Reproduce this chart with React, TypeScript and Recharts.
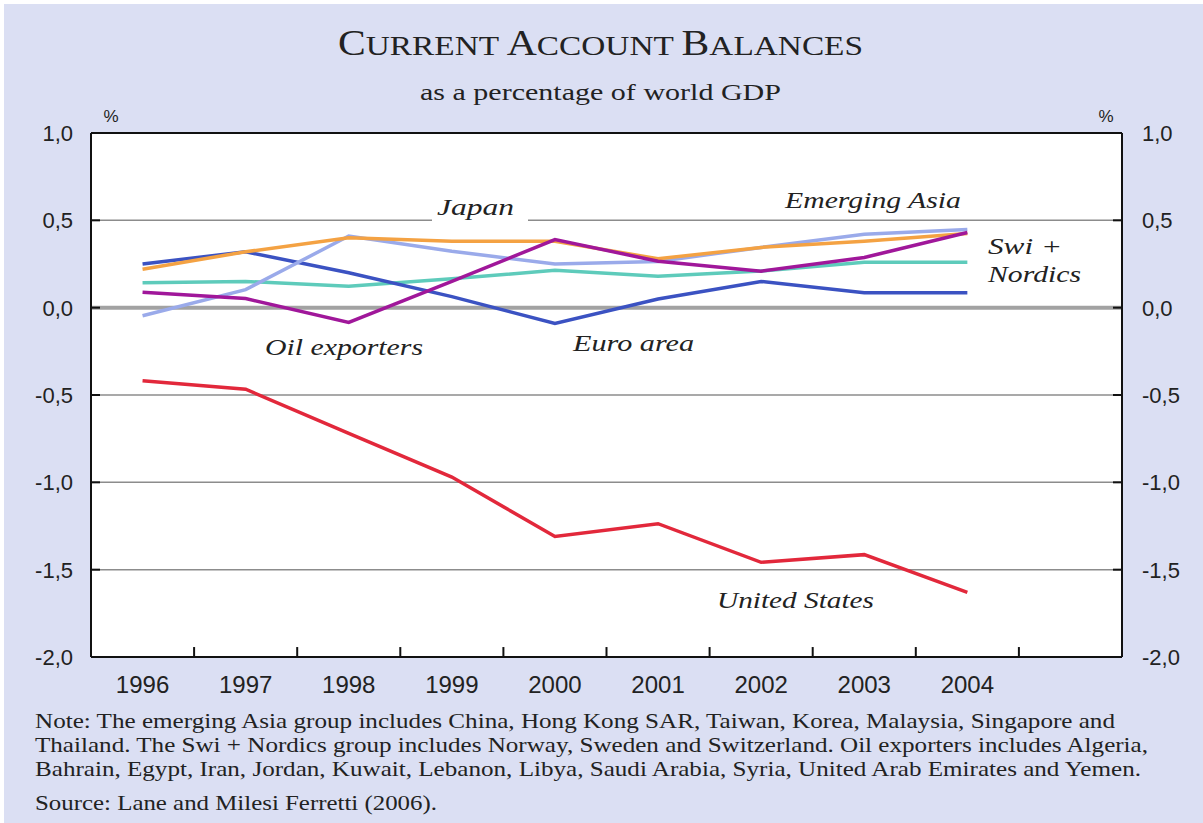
import { LineChart, Line, XAxis, YAxis, CartesianGrid, ReferenceLine } from 'recharts';

// values, % of world GDP
const years = [1996, 1997, 1998, 1999, 2000, 2001, 2002, 2003, 2004];
const euroArea = [0.25, 0.32, 0.2, 0.063, -0.09, 0.05, 0.15, 0.085, 0.085];
const japan = [0.22, 0.32, 0.4, 0.38, 0.38, 0.28, 0.345, 0.38, 0.425];
const emergingAsia = [-0.046, 0.103, 0.41, 0.323, 0.25, 0.265, 0.345, 0.42, 0.448];
const swiNordics = [0.142, 0.15, 0.122, 0.165, 0.214, 0.18, 0.21, 0.26, 0.26];
const oilExporters = [0.088, 0.052, -0.084, 0.15, 0.39, 0.266, 0.209, 0.287, 0.43];
const unitedStates = [-0.418, -0.467, -0.72, -0.97, -1.31, -1.237, -1.458, -1.414, -1.63];

const yearBounds = [1996.5, 1997.5, 1998.5, 1999.5, 2000.5, 2001.5, 2002.5, 2003.5, 2004.5];
const yTicks = [-2, -1.5, -1, -0.5, 0, 0.5, 1];

const noteLines = [
  'Note: The emerging Asia group includes China, Hong Kong SAR, Taiwan, Korea, Malaysia, Singapore and',
  'Thailand. The Swi + Nordics group includes Norway, Sweden and Switzerland. Oil exporters includes Algeria,',
  'Bahrain, Egypt, Iran, Jordan, Kuwait, Lebanon, Libya, Saudi Arabia, Syria, United Arab Emirates and Yemen.',
];
const sourceLine = 'Source: Lane and Milesi Ferretti (2006).';

const data = years.map((year, i) => ({
  year,
  euro: euroArea[i],
  japan: japan[i],
  asia: emergingAsia[i],
  nordics: swiNordics[i],
  oil: oilExporters[i],
  us: unitedStates[i],
}));

const SANS = '"Liberation Sans", Arial, sans-serif';
const SERIF = '"Liberation Serif", "Times New Roman", serif';
const INK = '#222';

const fmt = (v: number) => v.toFixed(1).replace('.', ',');

const LeftTick = (props: any) => {
  const { x, y, payload } = props;
  return (
    <g>
      <line x1={x + 18} x2={x + 27} y1={y} y2={y} stroke="#111" strokeWidth={2} />
      <text x={x} y={y} dy="0.36em" textAnchor="end" fontSize={22} fontFamily={SANS} fill={INK}>
        {fmt(payload.value)}
      </text>
    </g>
  );
};

const RightTick = (props: any) => {
  const { x, y, payload } = props;
  return (
    <g>
      <line x1={x - 20} x2={x - 29} y1={y} y2={y} stroke="#111" strokeWidth={2} />
      <text x={x} y={y} dy="0.36em" textAnchor="start" fontSize={22} fontFamily={SANS} fill={INK}>
        {fmt(payload.value)}
      </text>
    </g>
  );
};

const seriesLabels = [
  { text: 'Japan', x: 437, y: 215, w: 77 },
  { text: 'Emerging Asia', x: 785, y: 208, w: 176 },
  { text: 'Swi +', x: 988, y: 254, w: 74 },
  { text: 'Nordics', x: 988, y: 282, w: 93 },
  { text: 'Oil exporters', x: 265, y: 355, w: 158 },
  { text: 'Euro area', x: 573, y: 351, w: 121 },
  { text: 'United States', x: 717, y: 608, w: 157 },
];

export default function App() {
  return (
    <div style={{ position: 'absolute', left: 0, top: 0, width: 1203, height: 823, background: '#fff' }}>
      <div style={{ position: 'absolute', left: 4, top: 4, width: 1199, height: 819, background: '#dbdff3' }} />
      <div style={{ position: 'absolute', left: 0, top: 0 }}>
        <LineChart width={1203} height={700} data={data} margin={{ top: 133, right: 0, bottom: 0, left: 0 }}>
          <CartesianGrid vertical={false} stroke="#8c8c8c" strokeWidth={1.5} fill="#fff" />
          <XAxis
            type="number"
            dataKey="year"
            domain={[1995.5, 2005.5]}
            ticks={years}
            interval={0}
            height={43}
            tickLine={false}
            tickSize={0}
            tickMargin={19}
            axisLine={{ stroke: '#111', strokeWidth: 2 }}
            tick={{ fill: INK, fontSize: 24, fontFamily: SANS }}
          />
          <YAxis
            domain={[-2, 1]}
            ticks={yTicks}
            interval={0}
            width={91}
            tickLine={false}
            tickSize={0}
            tickMargin={18}
            axisLine={{ stroke: '#111', strokeWidth: 2 }}
            tick={<LeftTick />}
          />
          <YAxis
            yAxisId="right"
            orientation="right"
            domain={[-2, 1]}
            ticks={yTicks}
            interval={0}
            width={81}
            tickLine={false}
            tickSize={0}
            tickMargin={20}
            axisLine={{ stroke: '#111', strokeWidth: 2 }}
            tick={<RightTick />}
          />
          <ReferenceLine y={0} stroke="#a2a2a2" strokeWidth={4} />
          <ReferenceLine y={1} stroke="#111" strokeWidth={2} />
          {yearBounds.map((b) => (
            <ReferenceLine key={b} segment={[{ x: b, y: -2 }, { x: b, y: -1.943 }]} stroke="#111" strokeWidth={2} />
          ))}
          <Line dataKey="nordics" stroke="#5ecbbb" strokeWidth={3.5} dot={false} isAnimationActive={false} />
          <Line dataKey="euro" stroke="#3b52c2" strokeWidth={3.5} dot={false} isAnimationActive={false} />
          <Line dataKey="asia" stroke="#9aaaea" strokeWidth={3.5} dot={false} isAnimationActive={false} />
          <Line dataKey="japan" stroke="#f4a243" strokeWidth={3.5} dot={false} isAnimationActive={false} />
          <Line dataKey="oil" stroke="#a0179a" strokeWidth={3.5} dot={false} isAnimationActive={false} />
          <Line yAxisId="right" dataKey="us" stroke="#e2283b" strokeWidth={3.5} dot={false} isAnimationActive={false} />
        </LineChart>
      </div>
      <svg
        width={1203}
        height={823}
        style={{ position: 'absolute', left: 0, top: 0, pointerEvents: 'none' }}
      >
        <text x={338} y={55} textLength={525} lengthAdjust="spacingAndGlyphs" fontFamily={SERIF} fill={INK}>
          <tspan fontSize={35}>C</tspan>
          <tspan fontSize={28}>{'URRENT '}</tspan>
          <tspan fontSize={35}>A</tspan>
          <tspan fontSize={28}>{'CCOUNT '}</tspan>
          <tspan fontSize={35}>B</tspan>
          <tspan fontSize={28}>ALANCES</tspan>
        </text>
        <text x={420} y={100} textLength={361} lengthAdjust="spacingAndGlyphs" fontSize={22.5} fontFamily={SERIF} fill={INK}>
          as a percentage of world GDP
        </text>
        <text x={111} y={122} textAnchor="middle" fontSize={17} fontFamily={SANS} fill={INK}>%</text>
        <text x={1106} y={122} textAnchor="middle" fontSize={17} fontFamily={SANS} fill={INK}>%</text>
        <rect x={432} y={217} width={96} height={7} fill="#fff" />
        {seriesLabels.map((l) => (
          <text
            key={l.text}
            x={l.x}
            y={l.y}
            textLength={l.w}
            lengthAdjust="spacingAndGlyphs"
            fontSize={22.5}
            fontStyle="italic"
            fontFamily={SERIF}
            fill={INK}
          >
            {l.text}
          </text>
        ))}
        {noteLines.map((line, i) => (
          <text
            key={i}
            x={35}
            y={728 + i * 24.2}
            textLength={[1080, 1113, 1106][i]}
            lengthAdjust="spacingAndGlyphs"
            fontSize={22}
            fontFamily={SERIF}
            fill={INK}
          >
            {line}
          </text>
        ))}
        <text x={35} y={810} textLength={402} lengthAdjust="spacingAndGlyphs" fontSize={22} fontFamily={SERIF} fill={INK}>
          {sourceLine}
        </text>
      </svg>
    </div>
  );
}
